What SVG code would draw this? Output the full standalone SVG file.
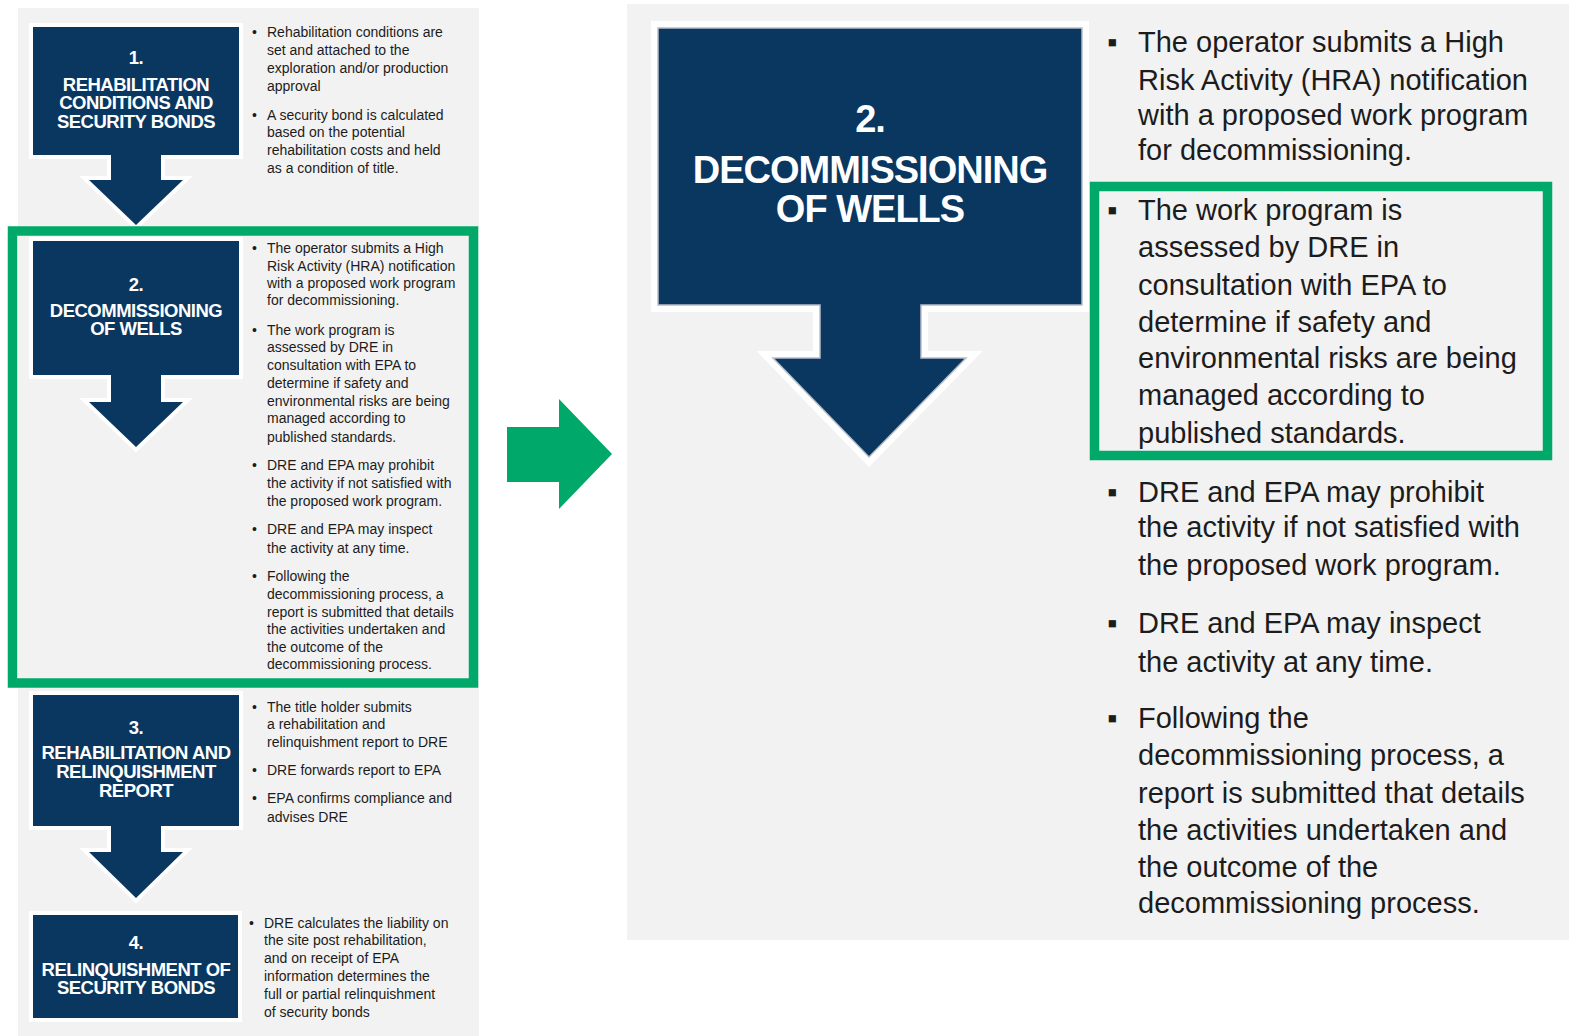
<svg xmlns="http://www.w3.org/2000/svg" width="1569" height="1036" viewBox="0 0 1569 1036">
<defs>
<path id="s1" d="M33 27 H239 V155 H161 V180 H183 L136 225 L89 180 H111 V155 H33 Z"/>
<path id="s2" d="M33 241 H239 V375 H161 V402 H183 L136 447 L89 402 H111 V375 H33 Z"/>
<path id="s3" d="M33 695 H239 V826 H161 V852 H183 L136 898 L89 852 H111 V826 H33 Z"/>
<path id="s4" d="M33 915 H238 V1018 H33 Z"/>
<path id="sb" d="M658 28 H1082 V305 H921 V358 H966 L869 457 L773 358 H820 V305 H658 Z"/>
</defs>
<style>
.panel{fill:#f2f2f2}
.halo{fill:#ffffff;stroke:#ffffff;stroke-width:8}
.step{fill:#0a3760}
.ttl{font-family:"Liberation Sans",Arial,sans-serif;font-weight:bold;fill:#ffffff;text-anchor:middle;font-size:18.5px;letter-spacing:-0.5px}
.big{font-size:38px;letter-spacing:-1px}
.sm{font-family:"Liberation Sans",Arial,sans-serif;font-size:14px;fill:#1c1c1c}
.lg{font-family:"Liberation Sans",Arial,sans-serif;font-size:29px;fill:#1c1c1c}
.hl{fill:none;stroke:#00a96a;stroke-width:9.5}
</style>
<rect class="panel" x="18" y="8" width="461" height="1028"/>
<rect class="panel" x="627" y="4" width="942" height="936"/>

<g id="step1">
<use href="#s1" class="halo"/>
<use href="#s1" class="step"/>
<text class="ttl" x="136" y="63.5">1.</text>
<text class="ttl" x="136" y="90.5">REHABILITATION</text>
<text class="ttl" x="136" y="108.5">CONDITIONS AND</text>
<text class="ttl" x="136" y="127.5">SECURITY BONDS</text>
<g class="sm">
<text x="252" y="37">•</text>
<text x="267" y="37">Rehabilitation conditions are</text>
<text x="267" y="55">set and attached to the</text>
<text x="267" y="73">exploration and/or production</text>
<text x="267" y="91">approval</text>
<text x="252" y="120">•</text>
<text x="267" y="120">A security bond is calculated</text>
<text x="267" y="137">based on the potential</text>
<text x="267" y="155">rehabilitation costs and held</text>
<text x="267" y="173">as a condition of title.</text>
</g>
</g>

<g id="step2">
<use href="#s2" class="halo"/>
<use href="#s2" class="step"/>
<text class="ttl" x="136" y="291">2.</text>
<text class="ttl" x="136" y="317">DECOMMISSIONING</text>
<text class="ttl" x="136" y="335">OF WELLS</text>
<g class="sm">
<text x="252" y="253">•</text>
<text x="267" y="253">The operator submits a High</text>
<text x="267" y="271">Risk Activity (HRA) notification</text>
<text x="267" y="288">with a proposed work program</text>
<text x="267" y="305">for decommissioning.</text>
<text x="252" y="335">•</text>
<text x="267" y="335">The work program is</text>
<text x="267" y="352">assessed by DRE in</text>
<text x="267" y="370">consultation with EPA to</text>
<text x="267" y="388">determine if safety and</text>
<text x="267" y="406">environmental risks are being</text>
<text x="267" y="423">managed according to</text>
<text x="267" y="442">published standards.</text>
<text x="252" y="470">•</text>
<text x="267" y="470">DRE and EPA may prohibit</text>
<text x="267" y="488">the activity if not satisfied with</text>
<text x="267" y="506">the proposed work program.</text>
<text x="252" y="534">•</text>
<text x="267" y="534">DRE and EPA may inspect</text>
<text x="267" y="553">the activity at any time.</text>
<text x="252" y="581">•</text>
<text x="267" y="581">Following the</text>
<text x="267" y="599">decommissioning process, a</text>
<text x="267" y="617">report is submitted that details</text>
<text x="267" y="634">the activities undertaken and</text>
<text x="267" y="652">the outcome of the</text>
<text x="267" y="669">decommissioning process.</text>
</g>
</g>

<g id="step3">
<use href="#s3" class="halo"/>
<use href="#s3" class="step"/>
<text class="ttl" x="136" y="734">3.</text>
<text class="ttl" x="136" y="759">REHABILITATION AND</text>
<text class="ttl" x="136" y="778">RELINQUISHMENT</text>
<text class="ttl" x="136" y="797">REPORT</text>
<g class="sm">
<text x="252" y="712">•</text>
<text x="267" y="712">The title holder submits</text>
<text x="267" y="729">a rehabilitation and</text>
<text x="267" y="747">relinquishment report to DRE</text>
<text x="252" y="775">•</text>
<text x="267" y="775">DRE forwards report to EPA</text>
<text x="252" y="803">•</text>
<text x="267" y="803">EPA confirms compliance and</text>
<text x="267" y="822">advises DRE</text>
</g>
</g>

<g id="step4">
<use href="#s4" class="halo"/>
<use href="#s4" class="step"/>
<text class="ttl" x="136" y="949">4.</text>
<text class="ttl" x="136" y="975.5">RELINQUISHMENT OF</text>
<text class="ttl" x="136" y="994">SECURITY BONDS</text>
<g class="sm">
<text x="249" y="928">•</text>
<text x="264" y="928">DRE calculates the liability on</text>
<text x="264" y="945">the site post rehabilitation,</text>
<text x="264" y="963">and on receipt of EPA</text>
<text x="264" y="981">information determines the</text>
<text x="264" y="999">full or partial relinquishment</text>
<text x="264" y="1017">of security bonds</text>
</g>
</g>

<g id="highlight-left">
<rect class="hl" x="12.5" y="231" width="461" height="452"/>
</g>

<g id="connectors">
<path d="M507 427 H559 V399 L612 454 L559 509 V482 H507 Z" fill="#00a96a"/>
</g>

<g id="zoomed-step2">
<use href="#sb" class="halo" style="stroke-width:14"/>
<use href="#sb" class="step" style="stroke:#b8bec8;stroke-width:1.5"/>
<text class="ttl big" x="870" y="132">2.</text>
<text class="ttl big" x="870" y="183">DECOMMISSIONING</text>
<text class="ttl big" x="870" y="222">OF WELLS</text>
<g class="lg">
<text x="1107" y="52">▪</text>
<text x="1138" y="52">The operator submits a High</text>
<text x="1138" y="90">Risk Activity (HRA) notification</text>
<text x="1138" y="125">with a proposed work program</text>
<text x="1138" y="160">for decommissioning.</text>
<text x="1107" y="220">▪</text>
<text x="1138" y="220">The work program is</text>
<text x="1138" y="257">assessed by DRE in</text>
<text x="1138" y="295">consultation with EPA to</text>
<text x="1138" y="332">determine if safety and</text>
<text x="1138" y="368">environmental risks are being</text>
<text x="1138" y="405">managed according to</text>
<text x="1138" y="443">published standards.</text>
<text x="1107" y="502">▪</text>
<text x="1138" y="502">DRE and EPA may prohibit</text>
<text x="1138" y="537">the activity if not satisfied with</text>
<text x="1138" y="575">the proposed work program.</text>
<text x="1107" y="633">▪</text>
<text x="1138" y="633">DRE and EPA may inspect</text>
<text x="1138" y="672">the activity at any time.</text>
<text x="1107" y="728">▪</text>
<text x="1138" y="728">Following the</text>
<text x="1138" y="765">decommissioning process, a</text>
<text x="1138" y="803">report is submitted that details</text>
<text x="1138" y="840">the activities undertaken and</text>
<text x="1138" y="877">the outcome of the</text>
<text x="1138" y="913">decommissioning process.</text>
</g>
<rect class="hl" x="1094.5" y="186.5" width="453" height="269"/>
</g>
</svg>
